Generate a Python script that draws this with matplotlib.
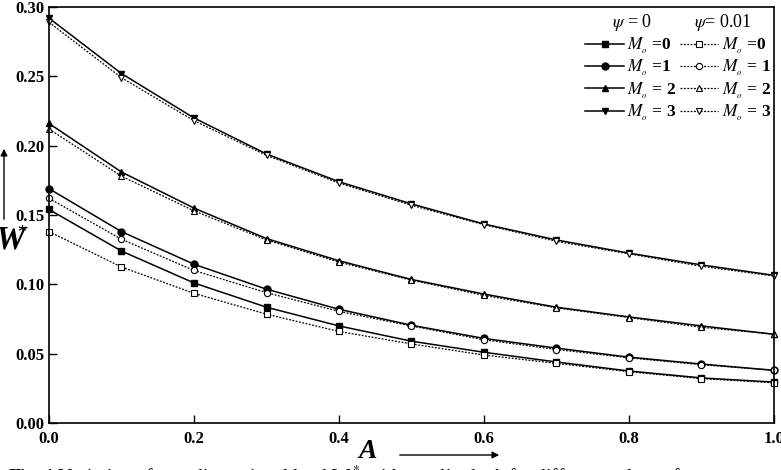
import matplotlib
matplotlib.use("Agg")
import matplotlib.pyplot as plt

plt.rcParams['font.family'] = ['Liberation Serif', 'DejaVu Serif']
plt.rcParams['mathtext.fontset'] = 'stix'

A = [0.0, 0.1, 0.2, 0.3, 0.4, 0.5, 0.6, 0.7, 0.8, 0.9, 1.0]
M0_labels = ['0', '1', '2', '3']

# psi = 0 (solid, filled markers)
W_psi0_M0 = [0.154, 0.124, 0.101, 0.0835, 0.070, 0.059, 0.051, 0.044, 0.0375, 0.0325, 0.0295]
W_psi0_M1 = [0.169, 0.138, 0.1145, 0.0965, 0.082, 0.0705, 0.061, 0.054, 0.0475, 0.0425, 0.038]
W_psi0_M2 = [0.216, 0.181, 0.155, 0.133, 0.117, 0.1035, 0.093, 0.0835, 0.0765, 0.070, 0.064]
W_psi0_M3 = [0.292, 0.252, 0.220, 0.194, 0.174, 0.158, 0.1435, 0.132, 0.1225, 0.114, 0.1065]

# psi = 0.01 (dotted, open markers)
W_psi1_M0 = [0.138, 0.1125, 0.0935, 0.0785, 0.066, 0.057, 0.049, 0.043, 0.037, 0.032, 0.029]
W_psi1_M1 = [0.162, 0.1325, 0.110, 0.094, 0.0805, 0.070, 0.060, 0.053, 0.047, 0.042, 0.038]
W_psi1_M2 = [0.212, 0.178, 0.153, 0.132, 0.116, 0.103, 0.092, 0.083, 0.076, 0.069, 0.064]
W_psi1_M3 = [0.289, 0.249, 0.218, 0.193, 0.173, 0.157, 0.143, 0.131, 0.122, 0.113, 0.106]

series0 = [W_psi0_M0, W_psi0_M1, W_psi0_M2, W_psi0_M3]
series1 = [W_psi1_M0, W_psi1_M1, W_psi1_M2, W_psi1_M3]
markers = ['s', 'o', '^', 'v']

fig = plt.figure(figsize=(7.81, 4.70), dpi=100)
ax = fig.add_axes([49/781, (470-423)/470, (774-49)/781, (423-7)/470])

h0, h1 = [], []
for ys, m, lab in zip(series0, markers, M0_labels):
    l, = ax.plot(A, ys, color='black', lw=1.1, marker=m, ms=5,
                 mfc='black', mec='black', clip_on=False,
                 label=r'$M_{_{o}}$' + (' =' if lab in '01' else ' = ') + lab)
    h0.append(l)
for ys, m, lab in zip(series1, markers, M0_labels):
    l, = ax.plot(A, ys, color='black', lw=0.9, ls=(0, (1.5, 1.2)), marker=m, ms=4.5,
                 mfc='white', mec='black', mew=0.8, clip_on=False,
                 label=r'$M_{_{o}}$' + (' =' if lab == '0' else ' = ') + lab)
    h1.append(l)

ax.set_xlim(0, 1.0)
ax.set_ylim(0, 0.30)
ax.set_xticks([0.0, 0.2, 0.4, 0.6, 0.8, 1.0])
ax.set_yticks([0.00, 0.05, 0.10, 0.15, 0.20, 0.25, 0.30])
ax.set_xticklabels(['0.0', '0.2', '0.4', '0.6', '0.8', '1.0'])
ax.set_yticklabels(['0.00', '0.05', '0.10', '0.15', '0.20', '0.25', '0.30'])
ax.tick_params(direction='in', length=6, width=1.0, labelsize=12, pad=6)
ax.tick_params(axis='y', pad=3)
for t in ax.get_xticklabels() + ax.get_yticklabels():
    t.set_fontweight('bold')
for s in ax.spines.values():
    s.set_linewidth(1.2)

leg = ax.legend(handles=h0 + h1, ncol=2, loc='upper right',
                bbox_to_anchor=(1.01, 0.955), frameon=False,
                prop={'family': 'Liberation Serif', 'weight': 'bold', 'size': 12.5},
                handlelength=2.2, handletextpad=0.2, columnspacing=0.2,
                labelspacing=0.12, borderaxespad=0.2)

ax.text(0.804, 0.962, r'$\psi$ = 0', transform=ax.transAxes, ha='center', va='center', fontsize=13)
ax.text(0.930, 0.962, r'$\psi$= 0.01', transform=ax.transAxes, ha='center', va='center', fontsize=13)

# axis labels with arrows
fig.text(-4/781, 1 - 240/470, 'W', fontsize=24, fontweight='bold', style='italic',
         ha='left', va='center', family='Liberation Serif')
fig.text(17/781, 1 - 233/470, '*', fontsize=13, ha='left', va='center', family='Liberation Serif')
fig.text(368/781, 1 - 452/470, 'A', fontsize=20, fontweight='bold', style='italic',
         ha='center', va='center', family='Liberation Serif')
fig.patches.append(matplotlib.patches.FancyArrowPatch(
    (4/781, 1 - 222/470), (4/781, 1 - 146/470), transform=fig.transFigure,
    arrowstyle='-|>', mutation_scale=10, lw=1.0, color='black'))
fig.patches.append(matplotlib.patches.FancyArrowPatch(
    (397/781, 1 - 455/470), (502/781, 1 - 455/470), transform=fig.transFigure,
    arrowstyle='-|>', mutation_scale=10, lw=1.0, color='black'))

# caption (mostly cropped at bottom)
fig.text(8/781, 1 - 483/470,
         r'$\bf{Fig. 4}$ Variation of non-dimensional load W$^*$ with amplitude A for different values of',
         fontsize=14, ha='left', va='baseline', family='Liberation Serif')

fig.savefig('out.png', dpi=100)
